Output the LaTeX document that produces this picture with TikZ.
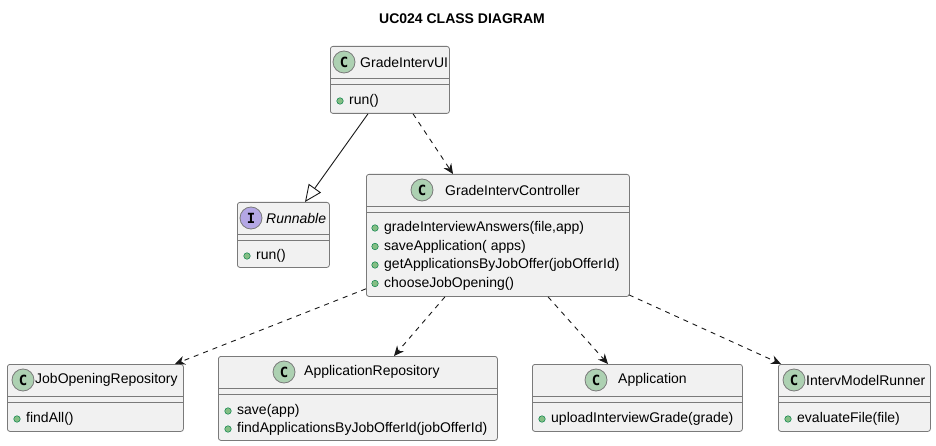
\documentclass[tikz,border=0pt]{standalone}
\usepackage{fontspec}
\setmainfont{Liberation Sans}
\newfontfamily\badgefont{DejaVu Sans Mono}
\usetikzlibrary{arrows.meta}
\definecolor{boxfill}{HTML}{F1F1F1}
\definecolor{edge}{HTML}{181818}
\definecolor{boxline}{HTML}{7A7A7A}
\definecolor{cfill}{HTML}{ADD1B2}
\definecolor{ifill}{HTML}{B4A7E5}
\definecolor{dotfill}{HTML}{84BE84}
\definecolor{dotedge}{HTML}{038048}
\tikzset{
  cls/.style={draw=boxline, fill=boxfill, line width=0.8pt, rounded corners=2.5pt, anchor=north west, inner sep=0pt},
  sepline/.style={draw=boxline, line width=0.8pt},
  badge/.style={circle, draw=boxline, line width=0.8pt, minimum size=22pt, inner sep=0pt, font=\badgefont\bfseries\fontsize{14}{14}\selectfont},
  cbadge/.style={badge, fill=cfill},
  ibadge/.style={badge, fill=ifill},
  cname/.style={anchor=west, inner sep=0pt, font=\fontsize{14}{14}\selectfont},
  meth/.style={anchor=west, inner sep=0pt, font=\fontsize{14}{14}\selectfont},
  pub/.style={circle, draw=dotedge, fill=dotfill, line width=0.5pt, minimum size=6.5pt, inner sep=0pt},
  dep/.style={draw=edge, line width=0.9pt, dash pattern=on 5pt off 5pt, -{Stealth[length=10pt,width=9pt]}},
  inh/.style={draw=edge, line width=0.9pt, -{Triangle[open, length=17pt, width=15pt]}},
  ttl/.style={inner sep=0pt, font=\bfseries\fontsize{14}{14}\selectfont},
}
\begin{document}
\begin{tikzpicture}[x=1pt,y=-1pt]
\useasboundingbox (0,0) rectangle (936,446);
\node[ttl] (title) at (462,19) {UC024 CLASS DIAGRAM};

% GradeIntervUI
\node[cls, minimum width=119pt, minimum height=67pt] (ui) at (330,46) {};
\draw[sepline] (330,78) -- (449,78);
\draw[sepline] (330,84) -- (449,84);
\node[cbadge] (uib) at (344,62) {C};
\node[cname] (uin) at (360,62) {GradeIntervUI};
\node[pub] (uid) at (340,101) {};
\node[meth] (uim) at (349,101) {run()};

% Runnable
\node[cls, minimum width=92pt, minimum height=65pt] (run) at (237,202) {};
\draw[sepline] (237,234) -- (329,234);
\draw[sepline] (237,240) -- (329,240);
\node[ibadge] (runb) at (251,218) {I};
\node[cname, font=\itshape\fontsize{14}{14}\selectfont] (runn) at (266,218) {Runnable};
\node[pub] (rund) at (247,256) {};
\node[meth] (runm) at (256,256) {run()};

% GradeIntervController
\node[cls, minimum width=263pt, minimum height=122pt] (ctrl) at (366,174) {};
\draw[sepline] (366,206) -- (629,206);
\draw[sepline] (366,212) -- (629,212);
\node[cbadge] (ctrlb) at (422,190) {C};
\node[cname] (ctrln) at (445,190) {GradeIntervController};
\node[pub] (cd1) at (375,228) {};
\node[meth] (cm1) at (384,228) {gradeInterviewAnswers(file,app)};
\node[pub] (cd2) at (375,246.5) {};
\node[meth] (cm2) at (384,246.5) {saveApplication( apps)};
\node[pub] (cd3) at (375,265) {};
\node[meth] (cm3) at (384,265) {getApplicationsByJobOffer(jobOfferId)};
\node[pub] (cd4) at (375,283.5) {};
\node[meth] (cm4) at (384,283.5) {chooseJobOpening()};

% JobOpeningRepository
\node[cls, minimum width=176pt, minimum height=67pt] (job) at (7,364) {};
\draw[sepline] (7,396) -- (183,396);
\draw[sepline] (7,402) -- (183,402);
\node[cbadge] (jobb) at (23,380) {C};
\node[cname] (jobn) at (35,380) {JobOpeningRepository};
\node[pub] (jobd) at (17,419) {};
\node[meth] (jobm) at (26,419) {findAll()};

% ApplicationRepository
\node[cls, minimum width=279pt, minimum height=84pt] (arep) at (218,356) {};
\draw[sepline] (218,388) -- (497,388);
\draw[sepline] (218,394) -- (497,394);
\node[cbadge] (arepb) at (284,372) {C};
\node[cname] (arepn) at (304,372) {ApplicationRepository};
\node[pub] (ard1) at (228,411) {};
\node[meth] (arm1) at (237,411) {save(app)};
\node[pub] (ard2) at (228,429) {};
\node[meth] (arm2) at (237,429) {findApplicationsByJobOfferId(jobOfferId)};

% Application
\node[cls, minimum width=210pt, minimum height=67pt] (app) at (532,364) {};
\draw[sepline] (532,396) -- (742,396);
\draw[sepline] (532,402) -- (742,402);
\node[cbadge] (appb) at (596,380) {C};
\node[cname] (appn) at (618,380) {Application};
\node[pub] (appd) at (542,419) {};
\node[meth] (appm) at (551,419) {uploadInterviewGrade(grade)};

% IntervModelRunner
\node[cls, minimum width=152pt, minimum height=67pt] (imr) at (778,364) {};
\draw[sepline] (778,396) -- (930,396);
\draw[sepline] (778,402) -- (930,402);
\node[cbadge] (imrb) at (794,380) {C};
\node[cname] (imrn) at (806,380) {IntervModelRunner};
\node[pub] (imrd) at (788,419) {};
\node[meth] (imrm) at (797,419) {evaluateFile(file)};

% connectors
\draw[inh] ([xshift=38pt]ui.south west) -- ([xshift=68pt]run.north west);
\draw[dep] ([xshift=83pt]ui.south west) -- ([xshift=87pt]ctrl.north west);
\draw[dep] ([yshift=8pt]ctrl.south west) -- ([xshift=168pt]job.north west);
\draw[dep] ([xshift=79pt]ctrl.south west) -- ([xshift=176pt]arep.north west);
\draw[dep] ([xshift=182pt]ctrl.south west) -- ([xshift=76pt]app.north west);
\draw[dep] ([xshift=-1pt,yshift=2pt]ctrl.south east) -- ([xshift=3pt]imr.north west);
\end{tikzpicture}
\end{document}
